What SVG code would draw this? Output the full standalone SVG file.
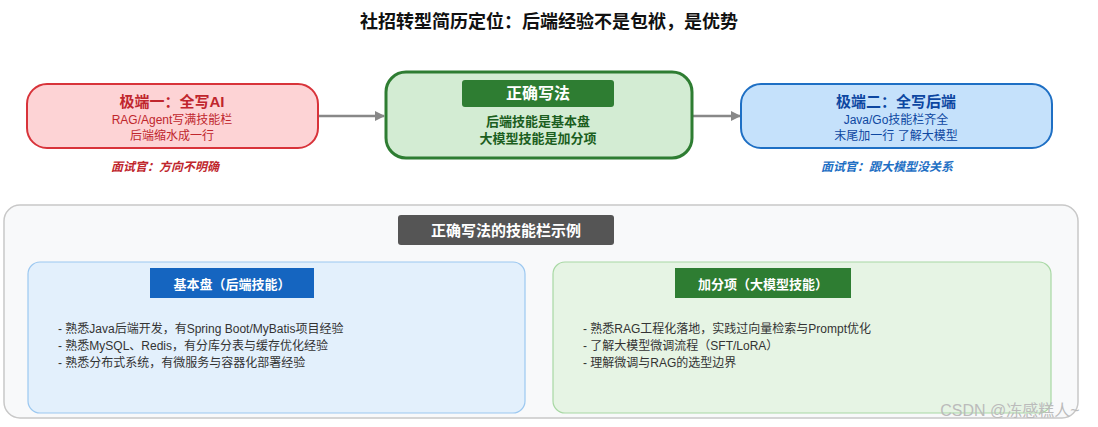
<svg xmlns="http://www.w3.org/2000/svg" width="1098" height="427" viewBox="0 0 1098 427">
<style>
text{font-family:"Liberation Sans","Noto Sans CJK SC",sans-serif;text-anchor:middle}
.b{font-weight:bold}
.li{text-anchor:start;font-size:12px;fill:#333}
</style>
<defs><marker id="a" markerWidth="10" markerHeight="10" refX="9" refY="5" orient="auto" markerUnits="userSpaceOnUse"><path d="M0,0 L10,5 L0,10 z" fill="#888"/></marker></defs>
<rect width="1098" height="427" fill="#fff"/>
<text x="549" y="28" class="b" font-size="18" fill="#111">社招转型简历定位：后端经验不是包袱，是优势</text>
<g id="connectors" stroke="#888" stroke-width="2.5">
<line x1="318" y1="116" x2="384" y2="116" marker-end="url(#a)"/>
<line x1="692" y1="116" x2="740" y2="116" marker-end="url(#a)"/>
</g>
<g id="extreme1">
<rect x="27" y="84" width="291" height="64" rx="20" fill="#fdd3d5" stroke="#d8333a" stroke-width="2"/>
<text x="172" y="107" class="b" font-size="15" fill="#c0262d">极端一：全写AI</text>
<text x="172" y="124" font-size="12" fill="#c0262d">RAG/Agent写满技能栏</text>
<text x="172" y="140" font-size="12" fill="#c0262d">后端缩水成一行</text>
<text x="165" y="171" class="b" font-size="12" font-style="italic" fill="#c0262d">面试官：方向不明确</text>
</g>
<g id="correct">
<rect x="386" y="72" width="306" height="86" rx="20" fill="#d3ecd3" stroke="#2e7d32" stroke-width="3"/>
<rect x="462" y="80" width="152" height="27" rx="3" fill="#2e7d32"/>
<text x="538" y="99" class="b" font-size="16" fill="#fff">正确写法</text>
<text x="538" y="126" class="b" font-size="13" fill="#1b5e20">后端技能是基本盘</text>
<text x="538" y="143" class="b" font-size="13" fill="#1b5e20">大模型技能是加分项</text>
</g>
<g id="extreme2">
<rect x="741" y="84" width="311" height="64" rx="20" fill="#c5e1fb" stroke="#1e6fc4" stroke-width="2"/>
<text x="896" y="107" class="b" font-size="15" fill="#0d47a1">极端二：全写后端</text>
<text x="896" y="124" font-size="12" fill="#0d47a1">Java/Go技能栏齐全</text>
<text x="896" y="140" font-size="12" fill="#0d47a1">末尾加一行 了解大模型</text>
<text x="887" y="171" class="b" font-size="12" font-style="italic" fill="#1e6fc4">面试官：跟大模型没关系</text>
</g>
<g id="example">
<rect x="4" y="205" width="1074" height="213" rx="16" fill="#f8f9fa" stroke="#c8c8c8" stroke-width="1.5"/>
<rect x="398" y="215" width="216" height="30" rx="3" fill="#555"/>
<text x="506" y="236" class="b" font-size="15" fill="#fff">正确写法的技能栏示例</text>
</g>
<g id="base">
<rect x="28" y="262" width="497" height="151" rx="12" fill="#e3f0fc" stroke="#9cc8f0" stroke-width="1.2"/>
<rect x="150" y="268" width="164" height="30" fill="#1565c0"/>
<text x="232" y="289" class="b" font-size="13" fill="#fff">基本盘（后端技能）</text>
<text x="58" y="333" class="li">- 熟悉Java后端开发，有Spring Boot/MyBatis项目经验</text>
<text x="58" y="350" class="li">- 熟悉MySQL、Redis，有分库分表与缓存优化经验</text>
<text x="58" y="367" class="li">- 熟悉分布式系统，有微服务与容器化部署经验</text>
</g>
<g id="plus">
<rect x="553" y="262" width="498" height="151" rx="12" fill="#e6f4e4" stroke="#a8d8a4" stroke-width="1.2"/>
<rect x="675" y="268" width="176" height="30" fill="#2e7d32"/>
<text x="763" y="289" class="b" font-size="13" fill="#fff">加分项（大模型技能）</text>
<text x="583" y="333" class="li">- 熟悉RAG工程化落地，实践过向量检索与Prompt优化</text>
<text x="583" y="350" class="li">- 了解大模型微调流程（SFT/LoRA）</text>
<text x="583" y="367" class="li">- 理解微调与RAG的选型边界</text>
</g>
<text x="1010" y="416" font-size="16" fill="#bbb">CSDN @冻感糕人~</text>
</svg>
